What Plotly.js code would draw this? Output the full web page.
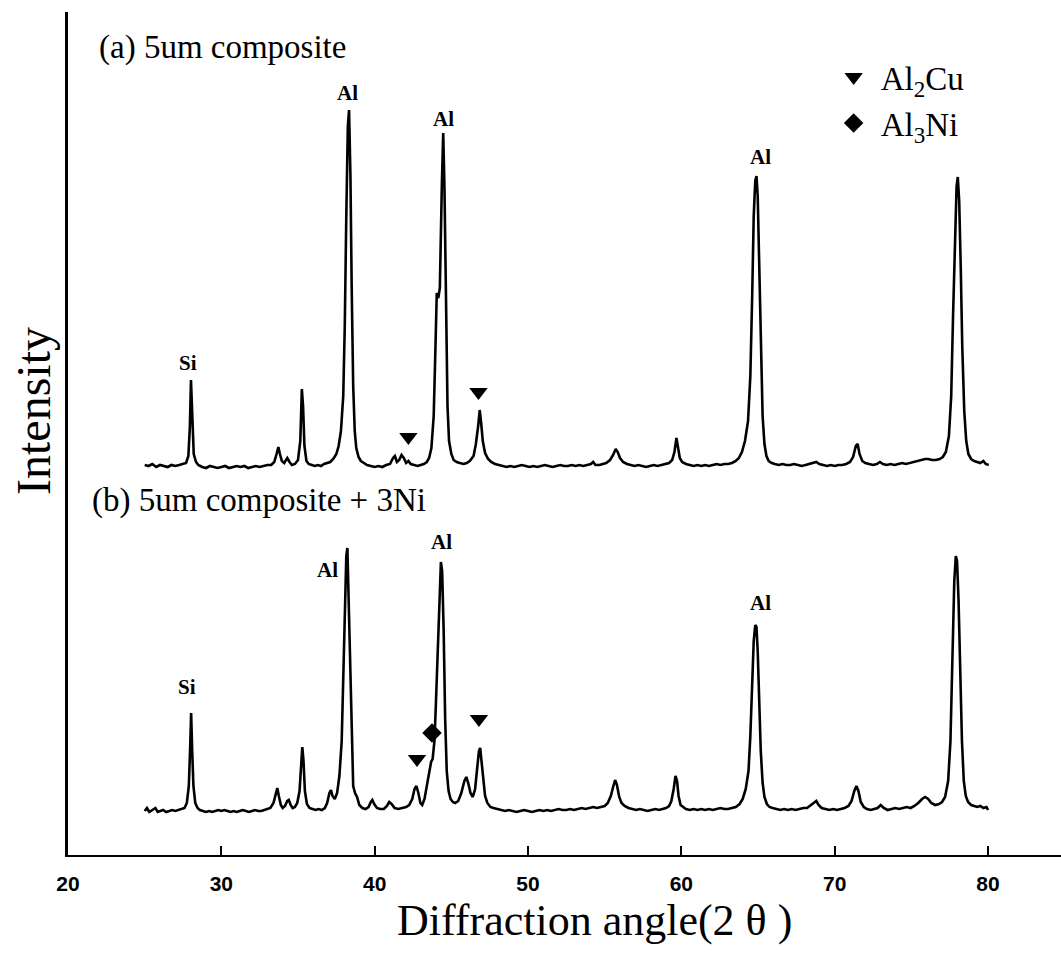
<!DOCTYPE html>
<html>
<head>
<meta charset="utf-8">
<script src="https://cdn.plot.ly/plotly-3.0.1.min.js"></script>
<style>
  html, body { margin: 0; padding: 0; background: #ffffff; }
  #chart { width: 1061px; height: 954px; }
</style>
</head>
<body>
<div id="chart"></div>
<script>
// ---------------- DATA ----------------
// (a) 5um composite : diffraction angle (2θ, deg) and intensity (a.u., above its own baseline)
const twoThetaA = [25.0,25.25,25.5,25.75,26.0,26.25,26.5,26.75,27.0,27.25,27.5,
  27.7,27.85,27.95,28.02,28.1,28.2,28.35,28.5,
  28.75,29.0,29.25,29.5,29.75,30.0,30.25,30.5,30.75,31.0,31.25,31.5,31.75,32.0,32.25,32.5,32.75,33.0,33.25,33.45,
  33.6,33.72,33.82,33.95,34.1,34.3,34.45,34.6,34.8,35.0,35.15,35.25,35.33,35.42,35.55,35.7,35.9,36.1,36.3,36.5,36.7,36.9,37.1,37.3,37.5,37.65,37.8,37.95,38.05,38.15,38.25,38.33,38.42,38.5,38.6,38.7,38.8,38.95,39.1,39.3,39.5,39.75,40.0,40.25,40.5,40.75,
  41.0,41.2,41.32,41.45,41.6,41.75,41.9,42.05,42.2,42.35,42.6,42.8,43.0,43.2,43.4,43.55,43.7,43.85,43.95,44.05,44.15,44.25,44.38,44.47,44.55,44.65,44.75,44.85,45.0,45.15,45.35,45.55,45.8,46.0,46.2,46.45,46.6,46.75,46.85,46.95,47.05,47.2,47.4,47.6,47.85,
  48.1,48.35,48.6,48.85,49.1,49.35,49.6,49.85,50.1,50.35,50.6,50.85,51.1,51.35,51.6,51.85,52.1,52.35,52.6,52.85,53.1,53.35,53.6,53.85,54.1,54.25,54.4,54.65,54.9,
  55.1,55.35,55.55,55.72,55.85,56.0,56.2,56.45,56.7,56.95,57.2,57.45,57.7,57.95,58.2,58.45,58.7,58.95,59.2,59.4,59.55,59.68,59.78,59.9,60.05,60.3,60.55,60.8,61.05,61.3,61.55,61.8,62.05,62.3,62.55,62.8,63.05,63.3,63.55,63.75,63.95,64.15,64.35,64.5,64.62,64.72,64.82,64.9,64.98,65.08,65.18,65.3,65.42,65.55,65.7,65.9,66.1,66.35,66.6,66.85,67.1,67.35,67.6,67.85,
  68.1,68.35,68.6,68.8,69.0,69.25,69.5,69.75,70.0,70.25,70.5,70.75,71.0,71.2,71.38,71.5,71.62,71.8,72.0,72.25,72.5,72.75,72.95,73.15,73.4,73.65,73.9,74.15,74.4,74.65,74.9,75.15,75.4,75.65,75.9,76.1,76.35,76.6,76.85,77.05,77.25,77.45,77.6,77.72,77.85,77.95,78.03,78.12,78.22,78.32,78.45,78.58,78.72,78.9,79.1,79.3,79.5,79.7,79.85,80.05];
const intensityA = [1,0,2,-1,1,0,-1,1,0,1,2,
  3,10,40,86,45,12,4,1,
  -1,-2,0,-1,-2,-1,0,-2,-1,0,-1,0,-2,-1,0,-1,0,1,1,4,
  12,19,12,5,3,8,4,1,2,6,25,77,60,20,5,2,1,0,1,0,2,3,4,7,12,20,35,70,140,250,340,356,290,180,80,35,18,9,5,3,1,0,-1,0,-1,1,
  2,8,10,4,6,11,8,3,5,2,1,0,1,2,4,8,18,50,110,173,168,178,280,333,280,150,60,25,12,6,4,3,2,3,5,10,22,40,56,42,25,13,7,4,2,
  1,0,-1,0,-1,0,1,0,-1,0,-1,0,1,0,-1,0,1,0,0,1,0,1,0,1,2,4,1,1,2,
  3,6,11,17,14,8,4,2,1,0,1,0,-1,0,1,0,1,2,3,6,14,28,20,8,4,2,1,0,1,0,1,0,1,2,1,2,2,3,5,8,14,25,45,90,170,250,285,290,270,200,110,50,22,10,5,3,2,1,2,1,1,2,1,0,
  1,2,3,4,2,1,0,1,0,1,1,2,4,9,20,22,12,5,3,2,1,2,4,2,1,2,1,2,3,2,3,4,5,6,7,7,6,6,7,9,14,30,70,150,240,280,289,265,200,120,55,25,12,7,5,4,3,5,2,1];

// (b) 5um composite + 3Ni
const twoThetaB = [25.0,25.15,25.3,25.5,25.7,25.85,26.0,26.2,26.4,26.6,26.8,27.0,27.2,27.4,27.6,27.75,27.88,27.97,28.03,28.1,28.18,28.3,28.45,28.6,28.8,
  29.0,29.2,29.4,29.6,29.8,30.0,30.2,30.4,30.6,30.8,31.0,31.2,31.4,31.6,31.8,32.0,32.2,32.4,32.6,32.8,33.0,33.2,33.4,33.55,33.65,33.75,33.88,34.0,34.15,34.3,34.4,34.52,34.65,34.8,34.95,35.1,35.2,35.28,35.36,35.45,35.58,35.75,35.95,36.15,36.35,36.55,36.75,36.9,37.05,37.15,37.25,37.4,37.55,37.7,37.85,37.95,38.05,38.15,38.22,38.3,38.4,38.5,38.6,38.72,38.85,
  39.0,39.2,39.4,39.6,39.75,39.85,39.97,40.15,40.35,40.6,40.8,40.95,41.1,41.3,41.55,41.8,42.05,42.25,42.45,42.6,42.72,42.85,42.98,43.1,43.25,43.4,43.55,43.68,43.78,43.9,44.0,44.12,44.22,44.32,44.4,44.5,44.6,44.7,44.82,44.95,45.1,45.25,45.45,45.65,45.85,45.98,46.1,46.25,46.4,46.55,46.7,46.8,46.88,46.97,47.08,47.2,47.35,47.55,47.75,
  48.0,48.25,48.5,48.75,49.0,49.25,49.5,49.75,50.0,50.25,50.5,50.75,51.0,51.25,51.5,51.75,52.0,52.25,52.5,52.75,53.0,53.25,53.5,53.75,54.0,54.25,54.5,54.75,55.0,55.2,55.4,55.55,55.68,55.8,55.95,56.1,56.3,56.55,56.8,57.05,57.3,57.55,57.8,58.05,58.3,58.55,58.8,59.0,59.2,59.35,59.5,59.62,59.72,59.82,59.95,60.1,60.3,60.55,60.8,61.05,61.3,61.55,61.8,62.05,62.3,62.55,62.8,63.05,63.3,63.55,63.8,64.0,64.2,64.38,64.5,64.62,64.72,64.82,64.9,64.98,65.08,65.18,65.3,65.42,65.58,65.75,65.95,66.2,66.45,66.7,66.95,67.2,67.45,67.7,67.95,
  68.2,68.45,68.65,68.8,68.95,69.15,69.4,69.65,69.9,70.15,70.4,70.65,70.9,71.1,71.28,71.42,71.55,71.7,71.9,72.1,72.35,72.6,72.8,73.0,73.2,73.45,73.7,73.95,74.2,74.45,74.7,74.95,75.2,75.45,75.7,75.9,76.1,76.3,76.55,76.8,77.0,77.2,77.4,77.55,77.68,77.8,77.9,77.98,78.08,78.18,78.3,78.42,78.55,78.7,78.9,79.1,79.3,79.5,79.7,79.9,80.0];
const intensityB = [0,3,-1,1,3,-1,0,1,-1,0,1,0,1,2,3,8,25,65,98,60,25,8,3,1,0,
  -1,0,-1,0,1,0,1,0,-1,0,-1,0,1,0,-1,0,1,0,0,1,2,3,8,18,23,15,6,3,5,10,11,6,3,4,8,20,45,64,50,20,7,3,2,1,2,1,3,8,18,21,15,12,18,35,70,130,200,255,263,210,130,60,25,18,14,
  6,3,2,4,9,11,7,3,2,2,5,9,7,3,2,3,4,6,12,22,25,18,8,6,12,25,38,49,52,70,110,170,215,249,240,180,90,40,20,12,9,8,10,18,30,34,28,18,14,22,45,60,63,48,28,15,8,4,3,
  2,1,0,1,0,-1,0,1,0,-1,0,1,0,1,0,1,2,1,1,2,1,2,3,2,3,4,3,4,5,8,15,24,31,26,14,8,5,3,2,1,2,1,0,1,2,1,2,3,5,10,22,35,30,15,6,4,2,1,2,1,2,1,2,1,2,3,2,2,3,4,7,12,22,40,75,130,170,186,184,160,110,60,28,14,7,4,3,2,1,2,1,2,1,2,3,
  3,6,9,10,6,3,2,1,2,1,2,3,5,10,20,25,20,9,4,2,1,2,3,6,3,1,2,3,2,3,4,3,5,8,12,14,12,8,6,7,9,14,30,70,150,230,255,250,210,140,70,30,15,9,6,5,4,5,3,4,1];

// Phase markers: 2θ and height above each pattern's baseline
const al2cuA = { twoTheta: [42.2, 46.77], height: [29, 74] };
const al2cuB = { twoTheta: [42.76, 46.8], height: [52, 92] };
const al3niB = { twoTheta: [43.74], height: [78] };

// Peak labels: text, 2θ, height above baseline
const labelsA = [
  { text: 'Si', twoTheta: 27.83, height: 103 },
  { text: 'Al', twoTheta: 38.26, height: 373 },
  { text: 'Al', twoTheta: 44.52, height: 347 },
  { text: 'Al', twoTheta: 65.18, height: 309 }
];
const labelsB = [
  { text: 'Si', twoTheta: 27.76, height: 124 },
  { text: 'Al', twoTheta: 36.9, height: 241 },
  { text: 'Al', twoTheta: 44.33, height: 269 },
  { text: 'Al', twoTheta: 65.13, height: 208 }
];

const xTicks = [20, 30, 40, 50, 60, 70, 80];
const panelA = '(a) 5um composite';
const panelB = '(b) 5um composite + 3Ni';
const xTitle = 'Diffraction angle(2 θ )';
const yTitle = 'Intensity';
const phaseNames = ['Al<sub>2</sub>Cu', 'Al<sub>3</sub>Ni'];

// vertical stacking offsets of the two patterns
const OFFSET_A = 389;
const OFFSET_B = 44;

// ---------------- PLOT ----------------
const shift = (arr, off) => arr.map(v => v + off);
const SERIF = 'Liberation Serif, Times New Roman, serif';

const traces = [
  { x: twoThetaA, y: shift(intensityA, OFFSET_A), type: 'scatter', mode: 'lines',
    line: { color: '#000', width: 2.6 }, showlegend: false, hoverinfo: 'skip' },
  { x: twoThetaB, y: shift(intensityB, OFFSET_B), type: 'scatter', mode: 'lines',
    line: { color: '#000', width: 2.6 }, showlegend: false, hoverinfo: 'skip' },
  { x: al2cuA.twoTheta.concat(al2cuB.twoTheta),
    y: shift(al2cuA.height, OFFSET_A).concat(shift(al2cuB.height, OFFSET_B)),
    type: 'scatter', mode: 'markers', name: phaseNames[0], legendgroup: 'g1',
    marker: { symbol: 'triangle-down', size: 16, color: '#000' } },
  { x: al3niB.twoTheta, y: shift(al3niB.height, OFFSET_B),
    type: 'scatter', mode: 'markers', name: phaseNames[1], legendgroup: 'g2',
    marker: { symbol: 'diamond', size: 15, color: '#000' } }
];

const labelAnn = (l, off) => ({
  x: l.twoTheta, y: l.height + off, xref: 'x', yref: 'y', text: l.text,
  showarrow: false, font: { family: SERIF, size: 21, color: '#000', weight: 'bold' }
});

const annotations = [
  ...labelsA.map(l => labelAnn(l, OFFSET_A)),
  ...labelsB.map(l => labelAnn(l, OFFSET_B)),
  { x: 0.029, y: 0.958, xref: 'paper', yref: 'paper', xanchor: 'left', yanchor: 'middle',
    text: panelA, showarrow: false, font: { family: SERIF, size: 33, color: '#000' } },
  { x: 0.022, y: 0.421, xref: 'paper', yref: 'paper', xanchor: 'left', yanchor: 'middle',
    text: panelB, showarrow: false, font: { family: SERIF, size: 33, color: '#000' } },
  { x: 0.53, y: -0.078, xref: 'paper', yref: 'paper', xanchor: 'center', yanchor: 'middle',
    text: xTitle, showarrow: false, font: { family: SERIF, size: 44, color: '#000' } },
  { x: -0.034, y: 0.527, xref: 'paper', yref: 'paper', xanchor: 'center', yanchor: 'middle',
    text: yTitle, textangle: -90, showarrow: false, font: { family: SERIF, size: 48, color: '#000' } }
];

const layout = {
  width: 1061, height: 954,
  margin: { l: 68, r: 0, t: 12, b: 99 },
  paper_bgcolor: '#fff', plot_bgcolor: '#fff',
  showlegend: true,
  legend: {
    x: 0.764, y: 0.956, xanchor: 'left', yanchor: 'top',
    bgcolor: 'rgba(0,0,0,0)', borderwidth: 0, itemwidth: 44, tracegroupgap: 0,
    font: { family: SERIF, size: 33, color: '#000' }
  },
  xaxis: {
    range: [20, 84.76], tickvals: xTicks, ticktext: xTicks.map(String),
    ticks: 'inside', ticklen: 9, tickwidth: 2, tickcolor: '#000',
    showline: true, linewidth: 2, linecolor: '#000',
    showgrid: false, zeroline: false, ticklabelstandoff: 9,
    tickfont: { family: 'Liberation Sans, Arial, sans-serif', size: 21, color: '#000', weight: 'bold' }
  },
  yaxis: {
    range: [0, 843], showticklabels: false, ticks: '',
    showline: true, linewidth: 3, linecolor: '#000',
    showgrid: false, zeroline: false
  },
  annotations: annotations
};

Plotly.newPlot('chart', traces, layout, { staticPlot: true, displayModeBar: false });
</script>
</body>
</html>
